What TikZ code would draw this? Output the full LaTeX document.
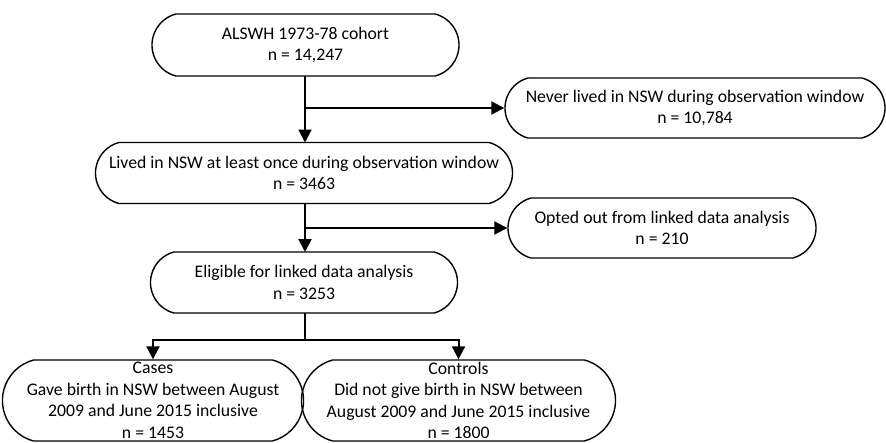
\documentclass[tikz,border=0pt]{standalone}
\usepackage{fontspec}
\setmainfont{Carlito}
\usetikzlibrary{shapes.misc,arrows.meta}
\begin{document}
\begin{tikzpicture}[x=1pt,y=-1pt,
  flowbox/.style={draw=black, line width=1.4pt, rounded rectangle, rounded rectangle arc length=150,
    inner sep=0pt, align=center, font=\fontsize{17.7}{21.5}\selectfont},
  conn/.style={line width=2pt, -{Triangle[length=13pt,width=13pt]}},
  plain/.style={line width=2pt}]
\useasboundingbox (0,0) rectangle (886,442);
\node[flowbox, minimum width=307pt, minimum height=62pt] (n1) at (305.5,45) {ALSWH 1973-78 cohort\\n = 14,247};
\node[flowbox, minimum width=380pt, minimum height=60pt] (n2) at (695,108) {Never lived in NSW during observation window\\n = 10,784};
\node[flowbox, minimum width=417pt, minimum height=61pt] (n3) at (304,173) {Lived in NSW at least once during observation window\\n = 3463};
\node[flowbox, minimum width=308pt, minimum height=60pt] (n4) at (662,228) {Opted out from linked data analysis\\n = 210};
\node[flowbox, minimum width=307pt, minimum height=61pt] (n5) at (304,282.5) {Eligible for linked data analysis\\n = 3253};
\node[flowbox, minimum width=290pt, minimum height=81pt] (n6) at (153,400.5) {Cases\\Gave birth in NSW between August\\2009 and June 2015 inclusive\\n = 1453};
\node[flowbox, minimum width=287pt, minimum height=81pt] (n7) at (458.5,400.5) {Controls\\Did not give birth in NSW between\\August 2009 and June 2015 inclusive\\n = 1800};
\coordinate (b1) at (305,108);
\coordinate (b2) at (305,228);
\coordinate (b3) at (305,340);
\draw[conn] (305,76) -- (305,142.5);
\draw[conn] (b1) -- (n2.west);
\draw[conn] (305,203.5) -- (305,252);
\draw[conn] (b2) -- (n4.west);
\draw[plain] (305,313) -- (b3);
\draw[conn] (b3) -| (n6.north);
\draw[conn] (b3) -| (n7.north);
\end{tikzpicture}
\end{document}
